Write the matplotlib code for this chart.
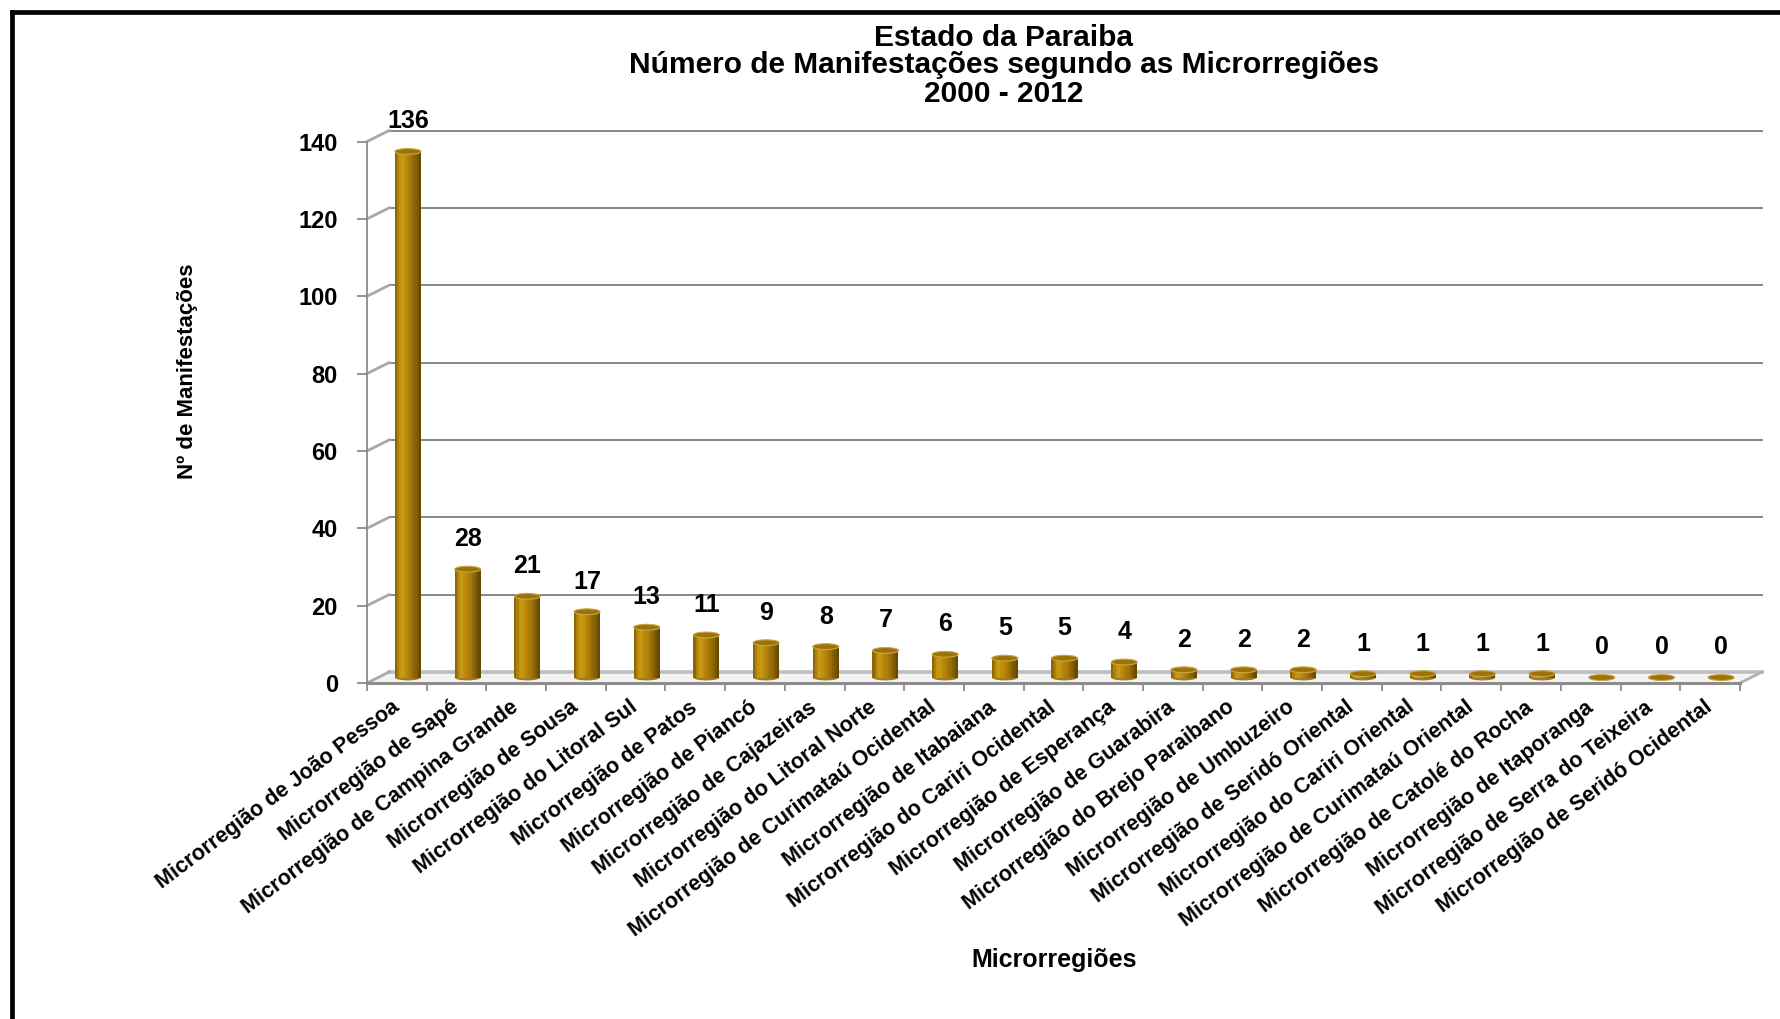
import matplotlib
matplotlib.use('Agg')
import matplotlib.pyplot as plt
from matplotlib.patches import Ellipse
from matplotlib.lines import Line2D
import numpy as np

plt.rcParams['font.family'] = ['Liberation Sans', 'DejaVu Sans']

# Dados
microrregioes = [
    'Microrregião de João Pessoa', 'Microrregião de Sapé', 'Microrregião de Campina Grande',
    'Microrregião de Sousa', 'Microrregião do Litoral Sul', 'Microrregião de Patos',
    'Microrregião de Piancó', 'Microrregião de Cajazeiras', 'Microrregião do Litoral Norte',
    'Microrregião de Curimataú Ocidental', 'Microrregião de Itabaiana',
    'Microrregião do Cariri Ocidental', 'Microrregião de Esperança', 'Microrregião de Guarabira',
    'Microrregião do Brejo Paraibano', 'Microrregião de Umbuzeiro',
    'Microrregião de Seridó Oriental', 'Microrregião do Cariri Oriental',
    'Microrregião de Curimataú Oriental', 'Microrregião de Catolé do Rocha',
    'Microrregião de Itaporanga', 'Microrregião de Serra do Teixeira',
    'Microrregião de Seridó Ocidental',
]
manifestacoes = [136, 28, 21, 17, 13, 11, 9, 8, 7, 6, 5, 5, 4, 2, 2, 2, 1, 1, 1, 1, 0, 0, 0]
y_ticks = [0, 20, 40, 60, 80, 100, 120, 140]
titulo = ['Estado da Paraiba', 'Número de Manifestações segundo as Microrregiões', '2000 - 2012']

n = len(manifestacoes)
x = np.arange(n)
valores = np.array(manifestacoes)

fig = plt.figure(figsize=(17.8, 10.19), dpi=100)
ax = fig.add_axes([0.2062, 0.3297, 0.7713, 0.5314])
ax.set_xlim(-0.5, n - 0.5)
ax.set_ylim(0, 140)

# profundidade do efeito 3D (em unidades de dados)
DX, DY = 0.37, 2.85
x0, x1 = -0.5, n - 0.5

# piso
ax.fill([x0, x1, x1 + DX, x0 + DX], [0, 0, DY, DY], color='#f3f3f3', zorder=0, clip_on=False)
# linhas de grade na parede do fundo
for t in y_ticks:
    if t == 0:
        ax.plot([x0 + DX, x1 + DX], [DY, DY], color='#bdbdbd', lw=2.6, zorder=1, clip_on=False)
    else:
        ax.plot([x0 + DX, x1 + DX], [t + DY, t + DY], color='#868686', lw=1.4, zorder=1, clip_on=False)
    ax.plot([x0, x0 + DX], [t, t + DY], color='#a8a8a8', lw=2.0, zorder=1, clip_on=False)
ax.plot([x1, x1 + DX], [0, DY], color='#b0b0b0', lw=2.0, zorder=1, clip_on=False)

# barras cilíndricas (gradiente horizontal)
bw = 0.435
cores = ['#8c6806', '#ad8009', '#c2930e', '#c89a13', '#c0900d', '#b8860b',
         '#b07f09', '#a37608', '#966c06', '#876105', '#775504', '#684903']
k = len(cores)
sw = bw / k
xc = x + DX / 2
for j, c in enumerate(cores):
    ax.bar(xc - bw / 2 + sw * (j + 0.5), valores, width=sw * 1.05, bottom=DY / 2,
           color=c, linewidth=0, zorder=3)

eh = 1.5
for xi, v in zip(xc, valores):
    ax.add_patch(Ellipse((xi, DY / 2), bw, eh, facecolor='#a27a1e', edgecolor='none', zorder=2))
    ax.add_patch(Ellipse((xi, v + DY / 2), bw, eh, facecolor='#9c7308',
                         edgecolor='#caa548', lw=0.8, zorder=4))
    ax.annotate(str(v), (xi, v + DY / 2), xytext=(0, 13), textcoords='offset points',
                ha='center', va='bottom', fontsize=18, fontweight='bold', zorder=5)

# eixos
for s in ['top', 'right']:
    ax.spines[s].set_visible(False)
ax.spines['left'].set_color('#8c8c8c')
ax.spines['left'].set_linewidth(1.3)
ax.spines['bottom'].set_color('#8c8c8c')
ax.spines['bottom'].set_linewidth(2.2)
ax.patch.set_visible(False)

ax.set_yticks(y_ticks)
ax.tick_params(axis='y', length=7, width=1.3, color='#8c8c8c', pad=14, labelsize=17)
for lbl in ax.get_yticklabels():
    lbl.set_fontweight('bold')

ax.set_xticks(x)
ax.set_xticks(np.arange(n + 1) - 0.5, minor=True)
ax.tick_params(axis='x', which='major', length=0, pad=16)
ax.tick_params(axis='x', which='minor', length=6, width=1.3, color='#8c8c8c')
ax.set_xticklabels(microrregioes, rotation=37, ha='right', va='center',
                   rotation_mode='anchor', fontsize=15.5, fontweight='bold')

ax.set_ylabel('Nº de Manifestações', fontsize=16, fontweight='bold', labelpad=0)
ax.yaxis.set_label_coords(-0.123, 0.575)
fig.text(0.592, 0.058, 'Microrregiões', ha='center', va='center', fontsize=18, fontweight='bold')

for yy, linha in zip([0.9625, 0.9360, 0.9075], titulo):
    fig.text(0.564, yy, linha, ha='center', va='center', fontsize=21.5, fontweight='bold')

# moldura
fig.add_artist(Line2D([0.007, 1.0], [0.9878, 0.9878], color='black', lw=3.4, transform=fig.transFigure))
fig.add_artist(Line2D([0.007, 0.007], [0.0, 0.9878], color='black', lw=3.4, transform=fig.transFigure))

fig.savefig('out.png', dpi=100)
